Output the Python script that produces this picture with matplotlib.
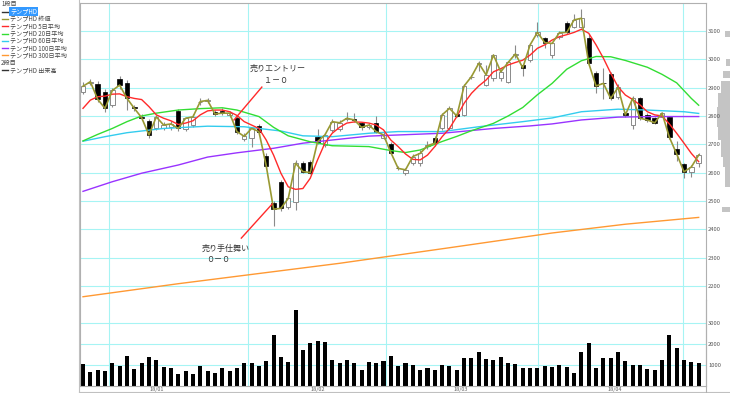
import matplotlib
matplotlib.use('Agg')
import matplotlib.pyplot as plt
from matplotlib.patches import Rectangle

plt.rcParams['font.family'] = ['Noto Sans CJK JP', 'DejaVu Sans']

# daily candles (bar index 0..84)
opens = [2885, 2918, 2913, 2886, 2840, 2931, 2915, 2832, 2797, 2784,
         2757, 2757, 2760, 2819, 2753, 2768, 2848, 2852, 2815, 2818,
         2805, 2792, 2718, 2721, 2765, 2659, 2492, 2568, 2480, 2498,
         2633, 2639, 2727, 2698, 2751, 2753, 2790, 2788, 2774, 2760,
         2777, 2722, 2701, 2618, 2598, 2633, 2633, 2693, 2721, 2757,
         2757, 2808, 2804, 2936, 2983, 2909, 2933, 2933, 2921, 3016,
         2980, 2998, 3086, 3076, 3015, 3080, 3127, 3115, 3115, 3074,
         2951, 2918, 2948, 2868, 2809, 2768, 2862, 2804, 2792, 2798,
         2795, 2682, 2630, 2603, 2633]
highs = [2920, 2930, 2925, 2895, 2898, 2940, 2927, 2840, 2806, 2790,
         2805, 2780, 2782, 2825, 2798, 2808, 2865, 2862, 2822, 2828,
         2818, 2800, 2740, 2762, 2770, 2668, 2500, 2575, 2515, 2645,
         2640, 2645, 2755, 2740, 2790, 2785, 2815, 2810, 2780, 2775,
         2800, 2742, 2708, 2625, 2615, 2665, 2680, 2712, 2728, 2812,
         2835, 2812, 2912, 2945, 2995, 2980, 3020, 2965, 2995, 3050,
         2985, 3058, 3130, 3080, 3062, 3100, 3135, 3160, 3177, 3090,
         2960, 2968, 2955, 2912, 2815, 2870, 2868, 2810, 2798, 2815,
         2800, 2710, 2635, 2628, 2668]
lows = [2878, 2910, 2850, 2815, 2832, 2895, 2821, 2818, 2786, 2722,
        2750, 2750, 2752, 2748, 2748, 2760, 2838, 2845, 2800, 2805,
        2798, 2738, 2712, 2692, 2738, 2618, 2412, 2465, 2472, 2468,
        2598, 2595, 2700, 2690, 2745, 2748, 2782, 2778, 2752, 2755,
        2740, 2718, 2665, 2608, 2590, 2628, 2625, 2685, 2695, 2750,
        2750, 2795, 2800, 2930, 2960, 2905, 2925, 2925, 2915, 3005,
        2940, 2990, 3080, 3040, 3005, 3070, 3090, 3110, 3110, 2980,
        2880, 2860, 2855, 2860, 2795, 2755, 2785, 2780, 2770, 2795,
        2720, 2640, 2580, 2585, 2620]
closes = [2905, 2921, 2859, 2827, 2890, 2909, 2862, 2827, 2794, 2733,
          2797, 2768, 2772, 2756, 2792, 2797, 2851, 2855, 2807, 2810,
          2810, 2745, 2728, 2756, 2745, 2624, 2471, 2474, 2509, 2633,
          2604, 2600, 2709, 2733, 2780, 2776, 2792, 2786, 2760, 2768,
          2745, 2733, 2671, 2615, 2610, 2657, 2668, 2695, 2704, 2804,
          2827, 2800, 2906, 2939, 2986, 2945, 3015, 2956, 2989, 3019,
          2970, 3051, 3095, 3059, 3056, 3094, 3095, 3139, 3145, 2986,
          2906, 2915, 2862, 2901, 2804, 2862, 2792, 2786, 2776, 2810,
          2725, 2666, 2603, 2620, 2662]
volumes = [1048, 645, 758, 710, 1097, 968, 1452, 806, 1097, 1371,
           1242, 887, 855, 565, 694, 565, 935, 726, 597, 855,
           694, 855, 1113, 1097, 968, 1177, 2435, 1403, 1161, 3629,
           1694, 2048, 2145, 2097, 1258, 1097, 1242, 1097, 774, 1129,
           1097, 1210, 1452, 935, 1081, 1000, 774, 855, 758, 1016,
           935, 774, 1339, 1323, 1613, 1274, 1242, 1403, 1081, 1032,
           871, 871, 839, 935, 919, 1000, 919, 613, 1613, 2048,
           839, 1323, 1339, 1613, 1210, 1016, 1016, 806, 758, 1242,
           2419, 1806, 1258, 1157, 1080]

ma5 = [2827, 2856, 2868, 2870, 2877, 2878, 2868, 2862, 2858, 2833,
       2804, 2792, 2783, 2770, 2775, 2783, 2804, 2818, 2821, 2821,
       2815, 2802, 2780, 2768, 2756, 2715, 2662, 2598, 2550, 2541,
       2544, 2580, 2645, 2704, 2739, 2760, 2775, 2779, 2778, 2775,
       2768, 2751, 2715, 2692, 2666, 2647, 2645, 2662, 2692, 2727,
       2756, 2798, 2845, 2880, 2906, 2927, 2956, 2967, 2980, 2989,
       2997, 3015, 3039, 3051, 3068, 3080, 3087, 3095, 3106, 3092,
       3051, 3004, 2951, 2903, 2874, 2858, 2839, 2815, 2804, 2800,
       2772, 2739, 2704, 2668, 2639]
ma20_x = [0, 2, 4, 6, 8, 10, 13, 16, 19, 21, 24, 26, 28, 31, 34, 39, 42, 44, 46,
          47, 49, 51, 53, 56, 58, 60, 62, 64, 66, 68, 70, 72, 74, 77, 79, 81, 83, 84]
ma20 = [2712, 2735, 2756, 2780, 2800, 2810, 2821, 2826, 2829, 2821, 2798, 2760, 2730,
        2709, 2695, 2692, 2678, 2671, 2680, 2690, 2710, 2728, 2748, 2774, 2800, 2830,
        2875, 2915, 2965, 2995, 3010, 3009, 2996, 2972, 2947, 2917, 2862, 2838]
ma60_x = [0, 3, 6, 11, 17, 22, 27, 30, 34, 39, 43, 49, 54, 60, 64, 68, 73, 77, 82, 84]
ma60 = [2711, 2727, 2741, 2756, 2764, 2762, 2747, 2730, 2727, 2739,
        2745, 2745, 2762, 2780, 2793, 2815, 2824, 2821, 2815, 2809]
ma100_x = [0, 4, 8, 13, 17, 21, 26, 30, 35, 39, 43, 49, 56, 61, 64, 68, 73, 78, 84]
ma100 = [2534, 2568, 2598, 2627, 2655, 2670, 2686, 2704, 2718, 2729,
         2733, 2739, 2756, 2765, 2772, 2786, 2796, 2798, 2798]
ma300_x = [0, 13, 35, 50, 64, 74, 84]
ma300 = [2162, 2208, 2280, 2335, 2387, 2418, 2442]

date_pos = [10, 32, 51.5, 72.5]
date_labels = ['18/01', '18/02', '18/03', '18/04']
vgrid_pos = [3.6, 22.5, 41.3, 62.1, 81.9]
price_ticks = [2200, 2300, 2400, 2500, 2600, 2700, 2800, 2900, 3000, 3100]
vol_ticks = [1000, 2000, 3000]

# price-by-volume profile on the right edge
prof_lo = [3080, 2975, 2935, 2880, 2830, 2760, 2715, 2655, 2620, 2550, 2460]
prof_hi = [3100, 3000, 2960, 2925, 2880, 2830, 2760, 2715, 2655, 2620, 2480]
prof_w = [5, 4, 6.7, 9.3, 11.7, 12.7, 11.7, 9.3, 6.7, 5, 8]

# signal notes: (label1, label2, from bar/price, to bar/price, text bar/price)
OLIVE = '#999933'
C_RED = '#ff2a2a'
C_GREEN = '#33dd33'
C_CYAN = '#33ccee'
C_PURPLE = '#9933ff'
C_ORANGE = '#ff9933'
GRID = '#a6f4f4'
GRAYTXT = '#555555'

W, H = 730, 393


def px_rect(x0, y0, x1, y1):
    return [x0 / W, 1 - y1 / H, (x1 - x0) / W, (y1 - y0) / H]


fig = plt.figure(figsize=(W / 100, H / 100), dpi=100)

ax_h = fig.add_axes(px_rect(706, 3, 730, 300))
ax_p = fig.add_axes(px_rect(80, 3, 706, 300))
ax_v = fig.add_axes(px_rect(80, 300, 706, 386))
ax_h.set_zorder(0)
ax_p.set_zorder(1)
ax_v.set_zorder(1)

n = len(closes)
xs = list(range(n))
x_lo, x_hi = -0.41, 85.0

# ---- price panel
ax_p.set_xlim(x_lo, x_hi)
ax_p.set_ylim(2150.5, 3198.8)
for p in price_ticks:
    ax_p.axhline(p, color=GRID, lw=0.8, zorder=0)
for g in vgrid_pos:
    ax_p.axvline(g, color=GRID, lw=0.8, zorder=0)

ax_p.vlines(xs, lows, highs, color='#8a8a8a', lw=0.8, zorder=2)
for i in xs:
    o, c = opens[i], closes[i]
    bot = min(o, c)
    hgt = max(abs(c - o), 3)
    if c >= o:
        ax_p.add_patch(Rectangle((i - 0.3, bot), 0.6, hgt, facecolor='white',
                                 edgecolor='#8a8a8a', lw=0.7, zorder=3))
    else:
        ax_p.add_patch(Rectangle((i - 0.3, bot), 0.6, hgt, facecolor='black',
                                 edgecolor='black', lw=0.5, zorder=3))

ax_p.plot(ma300_x, ma300, color=C_ORANGE, lw=1.0, zorder=4)
ax_p.plot(ma100_x, ma100, color=C_PURPLE, lw=1.0, zorder=4)
ax_p.plot(ma60_x, ma60, color=C_CYAN, lw=1.0, zorder=4)
ax_p.plot(ma20_x, ma20, color=C_GREEN, lw=1.0, zorder=4)
ax_p.plot(xs, ma5, color=C_RED, lw=1.0, zorder=5)
ax_p.plot(xs, closes, color=OLIVE, lw=1.2, zorder=6)

# trade notes
ax_p.plot([24.4, 20.6], [2902, 2786], color=C_RED, lw=1.0, zorder=7, clip_on=False)
ax_p.text(26.5, 2969, '売りエントリー', fontsize=5.8, color='#333333', ha='center', va='center')
ax_p.text(26.3, 2927, '１－０', fontsize=5.8, color='#333333', ha='center', va='center')
ax_p.plot([21.6, 25.8], [2369, 2489], color=C_RED, lw=1.0, zorder=7, clip_on=False)
ax_p.text(19.4, 2334, '売り手仕舞い', fontsize=5.8, color='#333333', ha='center', va='center')
ax_p.text(18.5, 2292, '０－０', fontsize=5.8, color='#333333', ha='center', va='center')

ax_p.yaxis.tick_right()
ax_p.set_yticks(price_ticks)
ax_p.set_yticklabels([str(p) for p in price_ticks])
ax_p.tick_params(axis='y', length=0, pad=1.5, labelsize=4.2, labelcolor=GRAYTXT)
ax_p.set_xticks([])
for s in ['bottom']:
    ax_p.spines[s].set_visible(False)
for s in ['left', 'right', 'top']:
    ax_p.spines[s].set_color('#b0b0b0')
    ax_p.spines[s].set_linewidth(0.8)

# ---- volume panel
ax_v.set_xlim(x_lo, x_hi)
ax_v.set_ylim(0, 4095)
for v in vol_ticks:
    ax_v.axhline(v, color=GRID, lw=0.8, zorder=0)
for g in vgrid_pos:
    ax_v.axvline(g, color=GRID, lw=0.8, zorder=0)
ax_v.bar(xs, volumes, width=0.55, color='black', zorder=2)
ax_v.yaxis.tick_right()
ax_v.set_yticks(vol_ticks)
ax_v.set_yticklabels([str(v) for v in vol_ticks])
ax_v.tick_params(axis='y', length=0, pad=1.5, labelsize=4.2, labelcolor=GRAYTXT)
ax_v.set_xticks(date_pos)
ax_v.set_xticklabels(date_labels)
ax_v.tick_params(axis='x', length=0, pad=0.8, labelsize=4.0, labelcolor='#666666')
ax_v.spines['top'].set_visible(False)
for s in ['left', 'right', 'bottom']:
    ax_v.spines[s].set_color('#b0b0b0')
    ax_v.spines[s].set_linewidth(0.8)

# ---- price-by-volume profile
ax_h.set_ylim(2150.5, 3198.8)
ax_h.set_xlim(24, 0)
ax_h.barh([(a + b) / 2 for a, b in zip(prof_lo, prof_hi)], prof_w,
          height=[b - a for a, b in zip(prof_lo, prof_hi)], color='#c4c4c4', lw=0)
ax_h.axis('off')

# ---- frame and legend panel (pixel overlay)
ax_o = fig.add_axes([0, 0, 1, 1])
ax_o.set_xlim(0, W)
ax_o.set_ylim(H, 0)
ax_o.axis('off')
ax_o.set_zorder(3)
ax_o.plot([78.5, 78.5], [0, H], color='#c0c0c0', lw=0.8)
ax_o.plot([79, W], [391.5, 391.5], color='#c0c0c0', lw=0.8)
ax_o.plot([706, 706], [300, 391.5], color='#b0b0b0', lw=0.8)

legend_rows = [('1段目', None), ('テンプHD', '#333333'), ('テンプHD 終値', OLIVE),
               ('テンプHD 5日平均', C_RED), ('テンプHD 20日平均', C_GREEN),
               ('テンプHD 60日平均', C_CYAN), ('テンプHD 100日平均', C_PURPLE),
               ('テンプHD 300日平均', C_ORANGE), ('2段目', None),
               ('テンプHD 出来高', '#333333')]
for k, (lab, col) in enumerate(legend_rows):
    y = 4.3 + 7.3 * k
    if col is None:
        ax_o.text(1, y, lab, fontsize=4.4, color='#444444', va='center', ha='left')
        continue
    ax_o.plot([2, 8], [y, y], color=col, lw=1.0)
    if k == 1:
        ax_o.text(10, y, lab, fontsize=4.4, color='white', va='center', ha='left',
                  bbox=dict(facecolor='#3399ff', edgecolor='none', pad=0.6))
    else:
        ax_o.text(10, y, lab, fontsize=4.4, color='#444444', va='center', ha='left')

fig.savefig('out.png', dpi=100, facecolor='white')
